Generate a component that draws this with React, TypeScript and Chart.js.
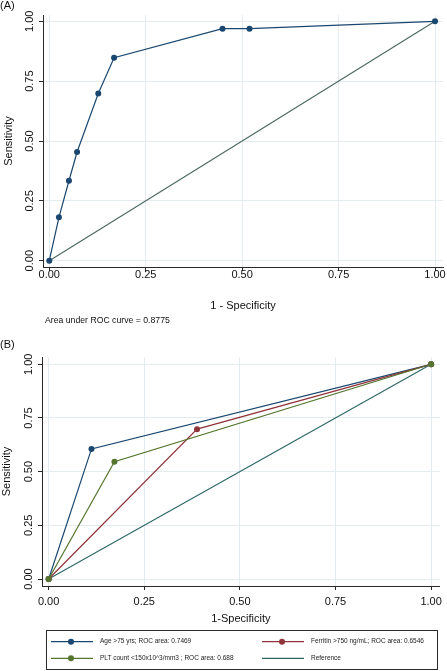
import React, { useEffect, useRef } from "react";
import { Chart, registerables } from "chart.js";

Chart.register(...registerables);

const FONT = "'Liberation Sans', Arial, Helvetica, sans-serif";

// shared ticks
const tickValues = [0, 0.25, 0.5, 0.75, 1];
const tickLabels = ["0.00", "0.25", "0.50", "0.75", "1.00"];
const yTitle = "Sensitivity";

// Panel A
const panelALabel = "(A)";
const panelAXTitle = "1 - Specificity";
const aucText = "Area under ROC curve = 0.8775";
const rocAX = [0, 0.025, 0.051, 0.072, 0.127, 0.168, 0.449, 0.519, 1];
const rocAY = [0, 0.181, 0.334, 0.454, 0.698, 0.848, 0.969, 0.969, 1];
const refX = [0, 1];
const refY = [0, 1];

// Panel B
const panelBLabel = "(B)";
const panelBXTitle = "1-Specificity";
const ageX = [0, 0.112, 1];
const ageY = [0, 0.606, 1];
const ferX = [0, 0.388, 1];
const ferY = [0, 0.698, 1];
const pltX = [0, 0.172, 1];
const pltY = [0, 0.546, 1];
const legendNamesB = [
  "Age >75 yrs; ROC area: 0.7469",
  "Ferritin >750 ng/mL; ROC area: 0.6546",
  "PLT count <150x10^3/mm3 ; ROC area: 0.688",
  "Reference",
];

const NAVY = "#1a476f";
const MAROON = "#90353b";
const GREEN = "#55752f";
const REF_A = "#4d6a64";
const REF_B = "#2f6a66";
const GRID = "#e4ecef";
const AXIS = "#2a2a2a";

const pts = (xs: number[], ys: number[]) => xs.map((x, i) => ({ x, y: ys[i] }));

type TextItem = { text: string; x: number; y: number; size: number; align?: CanvasTextAlign };

const textPlugin = (items: TextItem[]) => ({
  id: "texts",
  afterDraw(chart: any) {
    const ctx = chart.ctx;
    ctx.save();
    ctx.fillStyle = "#111";
    ctx.textBaseline = "middle";
    items.forEach((it) => {
      ctx.font = `${it.size}px ${FONT}`;
      ctx.textAlign = it.align || "left";
      ctx.fillText(it.text, it.x, it.y);
    });
    ctx.restore();
  },
});

const legendPlugin = {
  id: "legendBox",
  afterDraw(chart: any) {
    const ctx = chart.ctx;
    const ds = chart.data.datasets;
    // order in legend: Age, Ferritin, PLT, Reference
    const byName = (n: string) => ds.find((d: any) => d.label === n);
    const cells = [
      { x: 51, y: 311.7 },
      { x: 262, y: 311.7 },
      { x: 51, y: 328.3 },
      { x: 262, y: 328.3 },
    ];
    ctx.save();
    ctx.strokeStyle = AXIS;
    ctx.lineWidth = 1;
    ctx.strokeRect(46.5, 300.5, 391, 39);
    legendNamesB.forEach((name, i) => {
      const d = byName(name);
      const c = cells[i];
      ctx.strokeStyle = d.borderColor;
      ctx.lineWidth = 1.2;
      ctx.beginPath();
      ctx.moveTo(c.x, c.y);
      ctx.lineTo(c.x + 42, c.y);
      ctx.stroke();
      if (d.pointRadius > 0) {
        ctx.fillStyle = d.pointBackgroundColor;
        ctx.beginPath();
        ctx.arc(c.x + 20, c.y, 3, 0, Math.PI * 2);
        ctx.fill();
      }
      ctx.fillStyle = "#222";
      ctx.font = `6.5px ${FONT}`;
      ctx.textBaseline = "middle";
      ctx.textAlign = "left";
      ctx.fillText(name, c.x + 49, c.y);
    });
    ctx.restore();
  },
};

type PanelOpts = {
  datasets: any[];
  xMin: number; xMax: number; yMin: number; yMax: number;
  padTop: number;
  yWidth: number; xHeight: number;
  xTickPad: number; yTickPad: number;
  xTitle: string; xTitlePadBottom: number; yTitlePadTop: number;
  plugins: any[];
};

function makeConfig(o: PanelOpts): any {
  const setTicks = (scale: any) => {
    scale.ticks = tickValues.map((v) => ({ value: v }));
  };
  const tickFont = { family: FONT, size: 11 };
  return {
    type: "line",
    data: { datasets: o.datasets },
    options: {
      animation: false,
      responsive: false,
      maintainAspectRatio: false,
      layout: { padding: { top: o.padTop, right: 4, bottom: 0, left: 0 } },
      plugins: { legend: { display: false }, tooltip: { enabled: false }, title: { display: false } },
      elements: { line: { tension: 0 } },
      scales: {
        x: {
          type: "linear",
          min: o.xMin,
          max: o.xMax,
          bounds: "data",
          afterBuildTicks: setTicks,
          afterFit: (s: any) => { s.height = o.xHeight; },
          grid: { color: GRID, lineWidth: 1, drawTicks: true, tickLength: 4, tickColor: AXIS },
          border: { display: true, color: AXIS, width: 1 },
          ticks: {
            color: "#111",
            font: tickFont,
            padding: o.xTickPad,
            maxRotation: 0,
            minRotation: 0,
            autoSkip: false,
            callback: (_v: any, i: number) => tickLabels[i],
          },
          title: {
            display: true,
            text: o.xTitle,
            color: "#111",
            font: { family: FONT, size: 11 },
            padding: { top: 0, bottom: o.xTitlePadBottom },
          },
        },
        y: {
          type: "linear",
          min: o.yMin,
          max: o.yMax,
          bounds: "data",
          afterBuildTicks: setTicks,
          afterFit: (s: any) => { s.width = o.yWidth; },
          grid: { color: GRID, lineWidth: 1, drawTicks: true, tickLength: 4, tickColor: AXIS },
          border: { display: true, color: AXIS, width: 1 },
          ticks: {
            color: "#111",
            font: tickFont,
            padding: o.yTickPad,
            minRotation: 90,
            maxRotation: 90,
            crossAlign: "center",
            autoSkip: false,
            callback: (_v: any, i: number) => tickLabels[i],
          },
          title: {
            display: true,
            text: yTitle,
            color: "#111",
            font: { family: FONT, size: 11 },
            padding: { top: o.yTitlePadTop, bottom: 0 },
          },
        },
      },
    },
    plugins: o.plugins,
  };
}

const lineDs = (label: string, data: any[], color: string, radius: number, order: number) => ({
  label,
  data,
  borderColor: color,
  backgroundColor: color,
  pointBackgroundColor: color,
  pointBorderColor: color,
  pointBorderWidth: 0,
  pointRadius: radius,
  borderWidth: 1.2,
  fill: false,
  order,
});

export default function App() {
  const refA = useRef<HTMLCanvasElement | null>(null);
  const refB = useRef<HTMLCanvasElement | null>(null);

  useEffect(() => {
    const chartA = new Chart(
      refA.current as HTMLCanvasElement,
      makeConfig({
        datasets: [
          lineDs("ROC", pts(rocAX, rocAY), NAVY, 3, 0),
          lineDs("Reference", pts(refX, refY), REF_A, 0, 1),
        ],
        xMin: -0.0163, xMax: 1.0207, yMin: -0.0263, yMax: 1.0263,
        padTop: 15, yWidth: 43, xHeight: 63,
        xTickPad: -2.5, yTickPad: -1.9,
        xTitle: panelAXTitle, xTitlePadBottom: 17.4, yTitlePadTop: 2.4,
        plugins: [
          textPlugin([
            { text: panelALabel, x: 0, y: 5.5, size: 11 },
            { text: aucText, x: 45, y: 321, size: 8.7 },
          ]),
        ],
      })
    );
    const chartB = new Chart(
      refB.current as HTMLCanvasElement,
      makeConfig({
        datasets: [
          lineDs(legendNamesB[0], pts(ageX, ageY), NAVY, 3, 2),
          lineDs(legendNamesB[1], pts(ferX, ferY), MAROON, 3, 1),
          lineDs(legendNamesB[2], pts(pltX, pltY), GREEN, 3, 0),
          lineDs(legendNamesB[3], pts(refX, refY), REF_B, 0, 3),
        ],
        xMin: -0.0174, xMax: 1.0226, yMin: -0.0326, yMax: 1.034,
        padTop: 27, yWidth: 42, xHeight: 85,
        xTickPad: 5.1, yTickPad: -2.0,
        xTitle: panelBXTitle, xTitlePadBottom: 45.7, yTitlePadTop: 0.2,
        plugins: [
          textPlugin([{ text: panelBLabel, x: 0, y: 15, size: 11 }]),
          legendPlugin,
        ],
      })
    );
    return () => {
      chartA.destroy();
      chartB.destroy();
    };
  }, []);

  return (
    <div style={{ position: "absolute", top: 0, left: 0, width: 447, height: 671, background: "#fff" }}>
      <canvas ref={refA} width={447} height={330} style={{ position: "absolute", top: 0, left: 0, width: 447, height: 330 }} />
      <canvas ref={refB} width={447} height={341} style={{ position: "absolute", top: 330, left: 0, width: 447, height: 341 }} />
    </div>
  );
}
